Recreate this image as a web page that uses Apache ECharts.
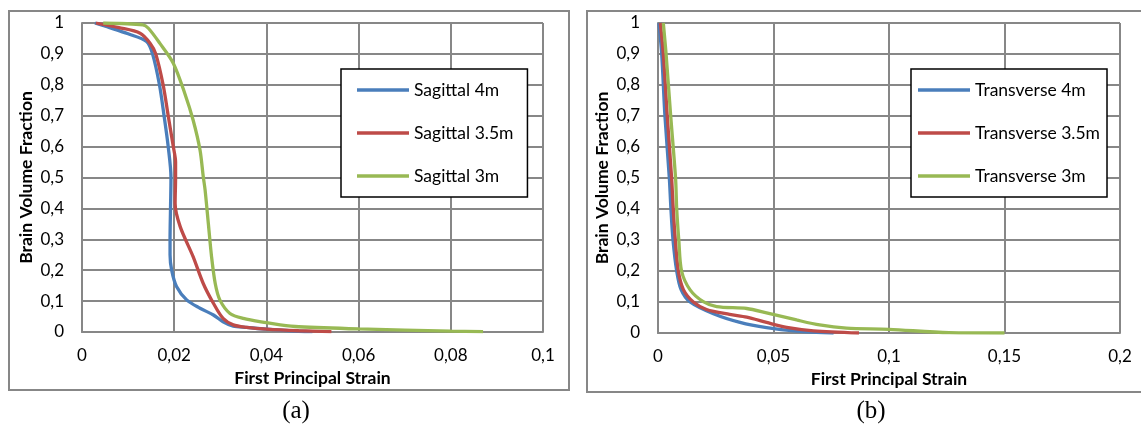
<!DOCTYPE html>
<html>
<head>
<meta charset="utf-8">
<script src="https://cdn.jsdelivr.net/npm/echarts@6/dist/echarts.min.js"></script>
<style>
html,body{margin:0;padding:0;background:#fff;}
#c{width:1141px;height:426px;}
</style>
</head>
<body>
<div id="c"></div>
<script>
// ---- Data ----
const namesA = ['Sagittal 4m', 'Sagittal 3.5m', 'Sagittal 3m'];
const namesB = ['Transverse 4m', 'Transverse 3.5m', 'Transverse 3m'];

const sag4X = [0.0028, 0.006, 0.010, 0.014, 0.0153, 0.0168, 0.0178, 0.0187, 0.0193, 0.0192, 0.0191, 0.0191, 0.01945, 0.0205, 0.0227, 0.0256, 0.0285, 0.0306, 0.0328, 0.0357, 0.040, 0.045, 0.050];
const sag4Y = [1.0, 0.985, 0.965, 0.94, 0.9, 0.8, 0.7, 0.6, 0.5, 0.4, 0.3, 0.25, 0.2, 0.147, 0.104, 0.077, 0.055, 0.033, 0.019, 0.015, 0.009, 0.004, 0.001];

const sag35X = [0.003, 0.008, 0.0126, 0.0148, 0.016, 0.0176, 0.0187, 0.0198, 0.0203, 0.0203, 0.0202, 0.0213, 0.0241, 0.0263, 0.0285, 0.0306, 0.0328, 0.0357, 0.040, 0.047, 0.0541];
const sag35Y = [1.0, 0.985, 0.967, 0.934, 0.9, 0.8, 0.7, 0.6, 0.55, 0.5, 0.416, 0.341, 0.244, 0.157, 0.093, 0.044, 0.023, 0.015, 0.009, 0.004, 0.001];

const sag3X = [0.0046, 0.0132, 0.0144, 0.0169, 0.0198, 0.0223, 0.0241, 0.0256, 0.0263, 0.0267, 0.0274, 0.0281, 0.0289, 0.0299, 0.0321, 0.035, 0.040, 0.043, 0.047, 0.060, 0.080, 0.087];
const sag3Y = [1.0, 0.994, 0.983, 0.934, 0.87, 0.772, 0.686, 0.589, 0.503, 0.46, 0.352, 0.244, 0.157, 0.104, 0.06, 0.044, 0.03, 0.023, 0.017, 0.01, 0.003, 0.001];

const tra4X = [0.0004, 0.0016, 0.003, 0.0049, 0.0056, 0.0065, 0.0081, 0.010, 0.0139, 0.024, 0.0355, 0.047, 0.060, 0.076];
const tra4Y = [1.0, 0.9, 0.7, 0.5, 0.4, 0.3, 0.2, 0.14, 0.1, 0.062, 0.034, 0.017, 0.006, 0.0];

const tra35X = [0.001, 0.0023, 0.004, 0.0059, 0.0066, 0.0075, 0.0088, 0.011, 0.0153, 0.021, 0.031, 0.0384, 0.047, 0.0557, 0.0673, 0.087];
const tra35Y = [1.0, 0.9, 0.7, 0.5, 0.4, 0.3, 0.2, 0.14, 0.1, 0.076, 0.06, 0.051, 0.034, 0.018, 0.007, 0.0];

const tra3X = [0.0023, 0.0035, 0.0055, 0.0076, 0.0081, 0.009, 0.0102, 0.0139, 0.0196, 0.0254, 0.0384, 0.047, 0.060, 0.070, 0.0816, 0.100, 0.126, 0.150];
const tra3Y = [1.0, 0.9, 0.7, 0.5, 0.4, 0.3, 0.2, 0.139, 0.101, 0.085, 0.079, 0.065, 0.042, 0.026, 0.016, 0.012, 0.001, 0.0];

const yTicks = ['0', '0,1', '0,2', '0,3', '0,4', '0,5', '0,6', '0,7', '0,8', '0,9', '1'];
const xTicksA = ['0', '0,02', '0,04', '0,06', '0,08', '0,1'];
const xTicksB = ['0', '0,05', '0,1', '0,15', '0,2'];

const captions = ['(a)', '(b)'];
const xTitle = 'First Principal Strain';
const yTitle = 'Brain Volume Fraction';

// ---- Styling ----
const colors = ['#4a7ebb', '#be4b48', '#98b954'];
const FONT = 'Lato';
const gridColor = '#878787';

function zip(xs, ys) { return xs.map((x, i) => [x, ys[i]]); }
function tickFmt(labels, step) {
  return v => { const i = Math.round(v / step); return labels[i] !== undefined ? labels[i] : ''; };
}

function xAxis(idx, max, step, labels) {
  return {
    type: 'value', gridIndex: idx, min: 0, max: max, interval: step,
    name: xTitle, nameLocation: 'middle', nameGap: 33,
    nameTextStyle: { fontFamily: FONT, fontWeight: 'bold', fontSize: 17.5, color: '#000' },
    axisLine: { show: true, lineStyle: { color: gridColor, width: 2 } },
    axisTick: { show: false },
    axisLabel: { formatter: tickFmt(labels, step), fontFamily: FONT, fontSize: 17, color: '#000', margin: 15 },
    splitLine: { show: true, lineStyle: { color: gridColor, width: 2 } }
  };
}
function yAxis(idx) {
  return {
    type: 'value', gridIndex: idx, min: 0, max: 1, interval: 0.1,
    name: yTitle, nameLocation: 'middle', nameGap: 47, nameRotate: 90,
    nameTextStyle: { fontFamily: FONT, fontWeight: 'bold', fontSize: 17.5, color: '#000' },
    axisLine: { show: true, lineStyle: { color: gridColor, width: 2 } },
    axisTick: { show: false },
    axisLabel: { formatter: tickFmt(yTicks, 0.1), fontFamily: FONT, fontSize: 17, color: '#000', margin: 18 },
    splitLine: { show: true, lineStyle: { color: gridColor, width: 2 } }
  };
}
function line(name, data, idx, ci) {
  return {
    name: name, type: 'line', xAxisIndex: idx, yAxisIndex: idx,
    data: data, symbol: 'none', smooth: 0.3,
    lineStyle: { color: colors[ci], width: 3.3 }, itemStyle: { color: colors[ci] },
    animation: false
  };
}
function legend(names, left, pl, pr) {
  return {
    data: names, orient: 'vertical', left: left, top: 69,
    itemWidth: 52, itemHeight: 14, itemGap: 25,
    padding: [12, pr, 12, pl],
    backgroundColor: '#fff', borderColor: '#000', borderWidth: 1.5,
    icon: 'path://M0,0 L52,0 L52,3.4 L0,3.4 Z',
    textStyle: { fontFamily: FONT, fontSize: 17.5, color: '#000', padding: [0, 0, 0, 0] },
    selectedMode: false
  };
}

const chart = echarts.init(document.getElementById('c'), null, { renderer: 'canvas' });
chart.setOption({
  animation: false,
  backgroundColor: '#fff',
  grid: [
    { left: 82, top: 23, width: 461, height: 309 },
    { left: 658, top: 23, width: 462, height: 310 }
  ],
  xAxis: [xAxis(0, 0.1, 0.02, xTicksA), xAxis(1, 0.2, 0.05, xTicksB)],
  yAxis: [yAxis(0), yAxis(1)],
  legend: [legend(namesA, 341, 16, 14), legend(namesB, 911, 7, 7)],
  series: [
    line(namesA[0], zip(sag4X, sag4Y), 0, 0),
    line(namesA[1], zip(sag35X, sag35Y), 0, 1),
    line(namesA[2], zip(sag3X, sag3Y), 0, 2),
    line(namesB[0], zip(tra4X, tra4Y), 1, 0),
    line(namesB[1], zip(tra35X, tra35Y), 1, 1),
    line(namesB[2], zip(tra3X, tra3Y), 1, 2)
  ],
  graphic: [
    { type: 'rect', shape: { x: 9, y: 11, width: 560, height: 379 }, style: { fill: null, stroke: gridColor, lineWidth: 2 }, z: -1 },
    { type: 'rect', shape: { x: 587, y: 11, width: 560, height: 381 }, style: { fill: null, stroke: gridColor, lineWidth: 2 }, z: -1 },
    { type: 'text', x: 296, y: 411, style: { text: captions[0], font: '25px "Liberation Serif"', fill: '#000', textAlign: 'center', textVerticalAlign: 'middle' } },
    { type: 'text', x: 871, y: 411, style: { text: captions[1], font: '25px "Liberation Serif"', fill: '#000', textAlign: 'center', textVerticalAlign: 'middle' } }
  ]
});
</script>
</body>
</html>
